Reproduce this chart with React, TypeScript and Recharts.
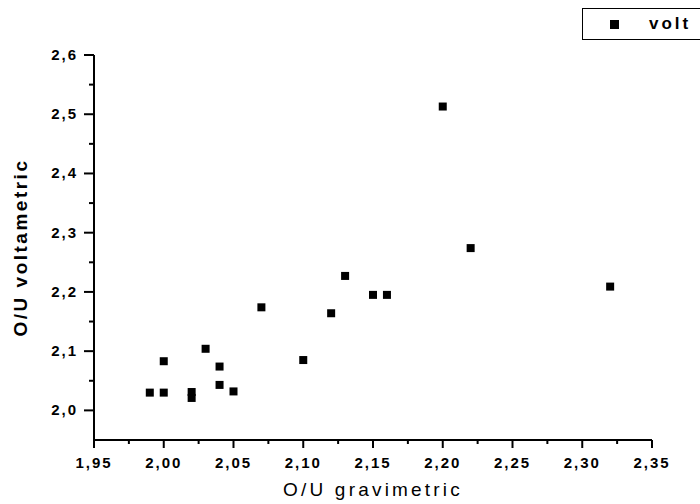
import React from 'react';
import { ScatterChart, Scatter, XAxis, YAxis, Legend } from 'recharts';

const gravimetric = [1.99, 2.0, 2.0, 2.02, 2.02, 2.03, 2.04, 2.04, 2.05, 2.07, 2.1, 2.12, 2.13, 2.15, 2.16, 2.2, 2.22, 2.32];
const voltametric = [2.03, 2.03, 2.083, 2.031, 2.021, 2.104, 2.074, 2.043, 2.032, 2.174, 2.085, 2.164, 2.227, 2.195, 2.195, 2.513, 2.274, 2.209];

const xMajorTicks = [1.95, 2.0, 2.05, 2.1, 2.15, 2.2, 2.25, 2.3, 2.35];
const xMinorTicks = [1.975, 2.025, 2.075, 2.125, 2.175, 2.225, 2.275, 2.325];
const yMajorTicks = [2.0, 2.1, 2.2, 2.3, 2.4, 2.5, 2.6];
const yMinorTicks = [2.05, 2.15, 2.25, 2.35, 2.45, 2.55];

const data = gravimetric.map((x, i) => ({ x, y: voltametric[i] }));
const xTicks = [...xMajorTicks, ...xMinorTicks].sort((a, b) => a - b);
const yTicks = [...yMajorTicks, ...yMinorTicks].sort((a, b) => a - b);

const isMajor = (v: number, majors: number[]) => majors.some((m) => Math.abs(m - v) < 1e-6);

const FONT = '"Liberation Sans", Arial, sans-serif';
const LEGEND_H = 32;

const XTick = (props: any) => {
  const { x, y, payload } = props;
  const major = isMajor(payload.value, xMajorTicks);
  return (
    <g>
      <line x1={x} y1={y} x2={x} y2={y + (major ? 8 : 4)} stroke="#000" strokeWidth={2} />
      {major && (
        <text x={x} y={y + 28} textAnchor="middle" fontFamily={FONT} fontSize={15} fontWeight="bold" letterSpacing={2} fill="#000">
          {payload.value.toFixed(2).replace('.', ',')}
        </text>
      )}
    </g>
  );
};

const YTick = (props: any) => {
  const { x, y, payload } = props;
  const major = isMajor(payload.value, yMajorTicks);
  return (
    <g>
      <line x1={x} y1={y} x2={x - (major ? 10 : 5)} y2={y} stroke="#000" strokeWidth={2} />
      {major && (
        <text x={x - 16} y={y + 5} textAnchor="end" fontFamily={FONT} fontSize={15} fontWeight="bold" letterSpacing={2} fill="#000">
          {payload.value.toFixed(1).replace('.', ',')}
        </text>
      )}
    </g>
  );
};

const SquareDot = (props: any) => {
  const { cx, cy } = props;
  if (cx == null || cy == null) return null;
  return <rect x={cx - 4} y={cy - 4} width={8} height={8} fill="#000" />;
};

const LegendBox = () => (
  <div
    style={{
      width: 130,
      height: LEGEND_H,
      border: '1px solid #000',
      boxSizing: 'border-box',
      display: 'flex',
      alignItems: 'center',
      background: '#fff',
    }}
  >
    <div style={{ width: 9, height: 9, background: '#000', marginLeft: 27 }} />
    <span
      style={{
        marginLeft: 30,
        fontFamily: FONT,
        fontSize: 17,
        fontWeight: 'bold',
        letterSpacing: 3,
        color: '#000',
      }}
    >
      volt
    </span>
  </div>
);

export default function App() {
  return (
    <div style={{ position: 'absolute', left: 0, top: 0, width: 700, height: 504, overflow: 'hidden', background: '#fff' }}>
      <ScatterChart width={700} height={504} margin={{ top: 55 - LEGEND_H, right: 48, bottom: 0, left: 0 }}>
        <XAxis
          type="number"
          dataKey="x"
          domain={[1.95, 2.35]}
          ticks={xTicks}
          interval={0}
          allowDataOverflow
          height={64}
          tickSize={0}
          tickMargin={0}
          tickLine={false}
          axisLine={{ stroke: '#000', strokeWidth: 2 }}
          tick={<XTick />}
          label={(p: any) => {
            const vb = p.viewBox || { x: 94, y: 440, width: 558, height: 64 };
            return (
              <text x={vb.x + vb.width / 2} y={vb.y + 56} textAnchor="middle" fontFamily={FONT} fontSize={19} letterSpacing={3.2} fill="#000">
                O/U gravimetric
              </text>
            );
          }}
        />
        <YAxis
          type="number"
          dataKey="y"
          domain={[1.95, 2.6]}
          ticks={yTicks}
          interval={0}
          allowDataOverflow
          width={94}
          tickSize={0}
          tickMargin={0}
          tickLine={false}
          axisLine={{ stroke: '#000', strokeWidth: 2 }}
          tick={<YTick />}
          label={(p: any) => {
            const vb = p.viewBox || { x: 0, y: 55, width: 94, height: 385 };
            const cy = vb.y + vb.height / 2;
            return (
              <text
                x={20}
                y={cy}
                transform={`rotate(-90, 20, ${cy})`}
                textAnchor="middle"
                dominantBaseline="central"
                fontFamily={FONT}
                fontSize={19}
                fontWeight="bold"
                letterSpacing={2.5}
                fill="#000"
              >
                O/U voltametric
              </text>
            );
          }}
        />
        <Legend
          verticalAlign="top"
          align="right"
          content={() => <LegendBox />}
          wrapperStyle={{ position: 'absolute', left: 582, top: 8, width: 130, height: LEGEND_H }}
        />
        <Scatter name="volt" data={data} fill="#000" shape={<SquareDot />} isAnimationActive={false} />
      </ScatterChart>
    </div>
  );
}
